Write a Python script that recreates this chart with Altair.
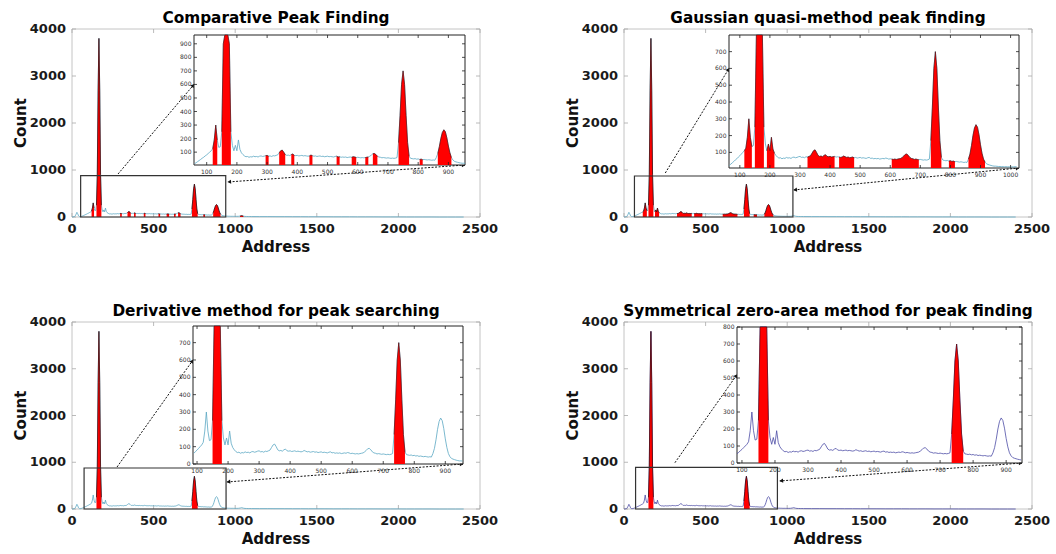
import math
import altair as alt
import pandas as pd

# ------------------------------------------------------------------ data
ADDRESS = (list(range(0, 1001, 5))
           + [1010, 1020, 1030, 1040, 1050, 1060, 1070, 1080, 1090, 1100]
           + list(range(1150, 2401, 50)))
COUNTS = [
    0, 2, 5, 10, 25, 60, 100, 70, 25, 10,
    8, 10, 15, 22, 30, 38, 46, 55, 62, 72,
    80, 90, 100, 110, 125, 190, 300, 190, 135, 140,
    250, 900, 2700, 3800, 2700, 900, 250, 150, 110, 150,
    110, 190, 120, 95, 82, 72, 66, 68, 62, 66,
    64, 70, 66, 68, 64, 70, 72, 68, 70, 74,
    76, 70, 72, 68, 74, 72, 76, 80, 95, 110,
    115, 100, 82, 76, 78, 74, 82, 86, 76, 74,
    76, 72, 74, 76, 72, 74, 72, 70, 72, 78,
    74, 70, 72, 68, 70, 72, 68, 70, 66, 68,
    70, 66, 68, 66, 64, 68, 70, 64, 66, 62,
    64, 62, 64, 60, 62, 64, 62, 66, 64, 60,
    62, 60, 58, 60, 58, 60, 62, 64, 70, 78,
    88, 90, 82, 70, 64, 62, 58, 60, 58, 56,
    58, 56, 54, 56, 54, 56, 60, 170, 370, 600,
    700, 600, 370, 170, 70, 54, 52, 50, 52, 48,
    50, 46, 48, 44, 46, 44, 42, 44, 42, 40,
    42, 40, 60, 90, 140, 200, 245, 265, 250, 205,
    145, 95, 60, 42, 32, 28, 25, 22, 20, 18,
    18, 17, 16, 16, 15, 15, 14, 15, 14, 14,
    13,
    14, 15, 20, 28, 18, 12, 11, 10, 10, 9,
    8, 8, 7, 7, 6, 6, 5, 5, 5, 4, 4, 4, 3, 3, 3, 2, 2, 2, 1, 1, 1, 1, 0, 0, 0, 0,
]
assert len(ADDRESS) == len(COUNTS)

PANEL_TITLES = [
    "Comparative Peak Finding",
    "Gaussian quasi-method peak finding",
    "Derivative method for peak searching",
    "Symmetrical zero-area method for peak finding",
]
X_TITLE = "Address"
Y_TITLE = "Count"

PEAK_REGIONS = [
    [(120, 135), (150, 180), (295, 305), (340, 360), (380, 390), (440, 450), (530, 540),
     (580, 595), (625, 635), (650, 665), (735, 770), (805, 815), (865, 910), (1030, 1050)],
    [(115, 140), (150, 180), (190, 215), (325, 415), (430, 480), (605, 695), (735, 770),
     (795, 815), (860, 915)],
    [(150, 180), (735, 770)],
    [(150, 180), (735, 770)],
]

ZOOM_BOXES = [(53, 942, 880), (64, 1035, 872), (74, 944, 877), (71, 940, 890)]

INSET_X_DOMAINS = [(58, 955), (64, 1028), (87, 957), (85, 948)]
INSET_Y_DOMAINS = [(5, 965), (7, 799), (0, 796), (0, 800)]
INSET_X_TICKS = [list(range(100, 901, 100)), list(range(100, 1001, 100)),
                 list(range(100, 901, 100)), list(range(100, 901, 100))]
INSET_Y_TICKS = [list(range(100, 901, 100)), list(range(100, 701, 100)),
                 list(range(0, 701, 100)), list(range(0, 801, 100))]

# arrow from zoom box (main units) to inset (inset units)
ARROW_IN = [((282, 915), (58, 600)), ((253, 936), (64, 600)),
            ((276, 898), (87, 600)), ((312, 990), (85, 520))]
# arrow from inset corner (inset units) to zoom box (main units)
ARROW_OUT = [((955, 5), (955, 745)), ((1028, 7), (1040, 575)),
             ((957, 0), (950, 578)), ((948, 0), (955, 600))]

MAIN_X_DOMAIN = (0, 2500)
MAIN_Y_DOMAIN = (0, 4000)
MAIN_X_TICKS = [0, 500, 1000, 1500, 2000, 2500]
MAIN_Y_TICKS = [0, 1000, 2000, 3000, 4000]

LINE_COLORS = ["#5aa7c3", "#5aa7c3", "#5aa7c3", "#4d4da6"]

# ------------------------------------------------------------------ layout (pixels)
W, H = 1056, 554
LAYOUT = [
    dict(mx=(72, 480), my=(217, 29), ix=(194, 465), iy=(165, 35)),
    dict(mx=(624, 1032), my=(217, 29), ix=(729, 1019), iy=(168, 35)),
    dict(mx=(72, 480), my=(509, 322), ix=(193, 463), iy=(464, 326)),
    dict(mx=(624, 1032), my=(509, 322), ix=(737, 1022), iy=(463, 327)),
]
FONT = "DejaVu Sans"
RED = "#ff0000"
FRAME_GRAY = "#c4c4c4"
TEXT_DARK = "#1a1a1a"

spec = pd.DataFrame({"address": ADDRESS, "count": COUNTS})


def lin(v, dom, rng):
    return rng[0] + (v - dom[0]) / (dom[1] - dom[0]) * (rng[1] - rng[0])


def inv(px, dom, rng):
    return dom[0] + (px - rng[0]) / (rng[1] - rng[0]) * (dom[1] - dom[0])


def scale(dom, rng, clamp=False):
    return alt.Scale(domain=list(dom), range=list(rng), nice=False, zero=False, clamp=clamp)


def region_frame(regions, lo, hi):
    rows = []
    for k, (a, b) in enumerate(regions):
        if a < lo or b > hi:
            continue
        for x, c in zip(ADDRESS, COUNTS):
            if a <= x <= b:
                rows.append({"address": x, "count": c, "base": 0, "region": k})
    return pd.DataFrame(rows)


def tick_frame(xdom, ydom, xt, yt, lx, ly):
    rows = []
    for t in xt:
        rows.append(dict(x=t, x2=t, y=ydom[0], y2=ydom[0] + ly))
        rows.append(dict(x=t, x2=t, y=ydom[1], y2=ydom[1] - ly))
    for t in yt:
        rows.append(dict(x=xdom[0], x2=xdom[0] + lx, y=t, y2=t))
        rows.append(dict(x=xdom[1], x2=xdom[1] - lx, y=t, y2=t))
    return pd.DataFrame(rows)


def head_angle(p_from, p_to):
    dx = p_to[0] - p_from[0]
    dy = p_to[1] - p_from[1]
    return math.degrees(math.atan2(dx, -dy)) % 360


def enc_xy(sx, sy, xf="x", yf="y"):
    return dict(x=alt.X(f"{xf}:Q", scale=sx, axis=None), y=alt.Y(f"{yf}:Q", scale=sy, axis=None))


def tick_labels(xdom, ydom, xt, yt, sx, sy, size, weight, color, xpad, ypad):
    xl = pd.DataFrame({"x": xt, "y": [ydom[0]] * len(xt), "t": [str(v) for v in xt]})
    yl = pd.DataFrame({"x": [xdom[0]] * len(yt), "y": yt, "t": [str(v) for v in yt]})
    xlab = alt.Chart(xl).mark_text(font=FONT, fontSize=size, fontWeight=weight, color=color,
                                   align="center", baseline="top", dy=xpad).encode(
        text="t:N", **enc_xy(sx, sy))
    ylab = alt.Chart(yl).mark_text(font=FONT, fontSize=size, fontWeight=weight, color=color,
                                   align="right", baseline="middle", dx=-ypad).encode(
        text="t:N", **enc_xy(sx, sy))
    return [xlab, ylab]


groups = []
for i in range(4):
    L = LAYOUT[i]
    mx = scale(MAIN_X_DOMAIN, L["mx"])
    my = scale(MAIN_Y_DOMAIN, L["my"])
    xd, yd = INSET_X_DOMAINS[i], INSET_Y_DOMAINS[i]
    ix = scale(xd, L["ix"])
    iy = scale(yd, L["iy"], clamp=True)

    def m_px(pt):
        return (lin(pt[0], MAIN_X_DOMAIN, L["mx"]), lin(pt[1], MAIN_Y_DOMAIN, L["my"]))

    def px_m(p):
        return (inv(p[0], MAIN_X_DOMAIN, L["mx"]), inv(p[1], MAIN_Y_DOMAIN, L["my"]))

    def i_px(pt):
        return (lin(pt[0], xd, L["ix"]), lin(pt[1], yd, L["iy"]))

    # ---------------- main plot
    frame_df = pd.DataFrame({"x": [MAIN_X_DOMAIN[0]], "x2": [MAIN_X_DOMAIN[1]],
                             "y": [MAIN_Y_DOMAIN[0]], "y2": [MAIN_Y_DOMAIN[1]]})
    main_frame = alt.Chart(frame_df).mark_rect(
        fill="white", fillOpacity=0, stroke=FRAME_GRAY, strokeWidth=1
    ).encode(x2="x2:Q", y2="y2:Q", **enc_xy(mx, my))

    lx_m = 4 * (MAIN_X_DOMAIN[1] - MAIN_X_DOMAIN[0]) / (L["mx"][1] - L["mx"][0])
    ly_m = 4 * (MAIN_Y_DOMAIN[1] - MAIN_Y_DOMAIN[0]) / (L["my"][0] - L["my"][1])
    main_ticks = alt.Chart(tick_frame(MAIN_X_DOMAIN, MAIN_Y_DOMAIN, MAIN_X_TICKS, MAIN_Y_TICKS,
                                      lx_m, ly_m)).mark_rule(color="#a8a8a8", strokeWidth=0.8).encode(
        x2="x2:Q", y2="y2:Q", **enc_xy(mx, my))

    main_labels = tick_labels(MAIN_X_DOMAIN, MAIN_Y_DOMAIN, MAIN_X_TICKS, MAIN_Y_TICKS,
                              mx, my, 13, "bold", TEXT_DARK, 6, 6)

    xt_df = pd.DataFrame({"x": [(MAIN_X_DOMAIN[0] + MAIN_X_DOMAIN[1]) / 2],
                          "y": [MAIN_Y_DOMAIN[0]], "t": [X_TITLE]})
    x_title = alt.Chart(xt_df).mark_text(
        font=FONT, fontSize=15, fontWeight="bold", color="#111111", align="center",
        baseline="top", dy=23).encode(text="t:N", **enc_xy(mx, my))
    yt_df = pd.DataFrame({"x": [MAIN_X_DOMAIN[0]],
                          "y": [(MAIN_Y_DOMAIN[0] + MAIN_Y_DOMAIN[1]) / 2], "t": [Y_TITLE]})
    y_title = alt.Chart(yt_df).mark_text(
        font=FONT, fontSize=15, fontWeight="bold", color="#111111", align="center",
        baseline="bottom", angle=270, dy=-43).encode(text="t:N", **enc_xy(mx, my))

    main_line = alt.Chart(spec).mark_line(color=LINE_COLORS[i], strokeWidth=0.8).encode(
        **enc_xy(mx, my, "address", "count"))

    reg_main = region_frame(PEAK_REGIONS[i], -1e9, 1e9)
    main_area = alt.Chart(reg_main).mark_area(color=RED, opacity=1).encode(
        y2="base:Q", detail="region:N", **enc_xy(mx, my, "address", "count"))
    main_edge = alt.Chart(reg_main).mark_line(color="#3a0000", strokeWidth=0.7).encode(
        detail="region:N", **enc_xy(mx, my, "address", "count"))

    zb = ZOOM_BOXES[i]
    zoom_df = pd.DataFrame({"x": [zb[0]], "x2": [zb[1]], "y": [0], "y2": [zb[2]]})
    zoom_rect = alt.Chart(zoom_df).mark_rect(
        fill="white", fillOpacity=0, stroke="#333333", strokeWidth=1.2
    ).encode(x2="x2:Q", y2="y2:Q", **enc_xy(mx, my))

    # arrows (converted to main-plot units)
    a_in_start = ARROW_IN[i][0]
    a_in_end = px_m(i_px(ARROW_IN[i][1]))
    a_out_start = px_m(i_px(ARROW_OUT[i][0]))
    a_out_end = ARROW_OUT[i][1]
    arrows_df = pd.DataFrame({
        "x": [a_in_start[0], a_out_start[0]], "y": [a_in_start[1], a_out_start[1]],
        "x2": [a_in_end[0], a_out_end[0]], "y2": [a_in_end[1], a_out_end[1]],
    })
    arrow_lines = alt.Chart(arrows_df).mark_rule(
        color="#111111", strokeWidth=1, strokeDash=[2, 1.5]).encode(
        x2="x2:Q", y2="y2:Q", **enc_xy(mx, my))

    heads = []
    for (p0, p1) in [(a_in_start, a_in_end), (a_out_end, a_out_start), (a_out_start, a_out_end)]:
        q0, q1 = m_px(p0), m_px(p1)
        d = math.hypot(q1[0] - q0[0], q1[1] - q0[1])
        back = 2.0
        hp = (q1[0] - (q1[0] - q0[0]) / d * back, q1[1] - (q1[1] - q0[1]) / d * back)
        hm = px_m(hp)
        heads.append({"x": hm[0], "y": hm[1], "angle": head_angle(q0, q1)})
    heads_df = pd.DataFrame(heads)
    arrow_heads = alt.Chart(heads_df).mark_point(
        shape="triangle", filled=True, size=18, color="#111111", opacity=1).encode(
        angle=alt.Angle("angle:Q", scale=None), **enc_xy(mx, my))

    title_df = pd.DataFrame({"x": [(MAIN_X_DOMAIN[0] + MAIN_X_DOMAIN[1]) / 2],
                             "y": [MAIN_Y_DOMAIN[1]], "t": [PANEL_TITLES[i]]})
    title = alt.Chart(title_df).mark_text(
        font=FONT, fontSize=15.3, fontWeight="bold", baseline="alphabetic", align="center",
        dy=-6, color="#000000").encode(text="t:N", **enc_xy(mx, my))

    groups.append(alt.layer(main_frame, main_ticks, *main_labels, x_title, y_title,
                            main_line, main_area, main_edge,
                            zoom_rect, arrow_lines, arrow_heads, title))

    # ---------------- inset
    iframe_df = pd.DataFrame({"x": [xd[0]], "x2": [xd[1]], "y": [yd[0]], "y2": [yd[1]]})
    inset_frame = alt.Chart(iframe_df).mark_rect(
        fill="white", fillOpacity=1, stroke="#222222", strokeWidth=1).encode(
        x2="x2:Q", y2="y2:Q", **enc_xy(ix, iy))

    inset_labels = tick_labels(xd, yd, INSET_X_TICKS[i], INSET_Y_TICKS[i], ix, iy,
                               6, "normal", "#333333", 4, 2.5)

    sub = spec[(spec["address"] >= xd[0]) & (spec["address"] <= xd[1])]
    inset_line = alt.Chart(sub).mark_line(color=LINE_COLORS[i], strokeWidth=0.8).encode(
        **enc_xy(ix, iy, "address", "count"))

    reg_in = region_frame(PEAK_REGIONS[i], xd[0], xd[1])
    inset_area = alt.Chart(reg_in).mark_area(color=RED, opacity=1).encode(
        y2="base:Q", detail="region:N", **enc_xy(ix, iy, "address", "count"))
    inset_edge = alt.Chart(reg_in).mark_line(color="#5a0000", strokeWidth=0.6).encode(
        detail="region:N", **enc_xy(ix, iy, "address", "count"))

    lx_i = 3 * (xd[1] - xd[0]) / (L["ix"][1] - L["ix"][0])
    ly_i = 3 * (yd[1] - yd[0]) / (L["iy"][0] - L["iy"][1])
    inset_ticks = alt.Chart(tick_frame(xd, yd, INSET_X_TICKS[i], INSET_Y_TICKS[i], lx_i, ly_i)
                            ).mark_rule(color="#222222", strokeWidth=0.8).encode(
        x2="x2:Q", y2="y2:Q", **enc_xy(ix, iy))

    groups.append(alt.layer(inset_frame, *inset_labels, inset_line, inset_area, inset_edge,
                            inset_ticks))

chart = alt.layer(*groups).resolve_scale(x="independent", y="independent").properties(
    width=W, height=H, padding=0, autosize=alt.AutoSizeParams(type="none")
).configure_view(strokeWidth=0)

chart.save("out.html", embed_options={"renderer": "svg", "actions": False})
